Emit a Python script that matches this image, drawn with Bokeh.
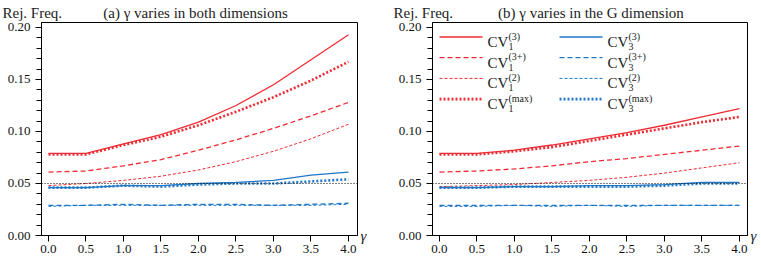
from bokeh.plotting import figure
from bokeh.layouts import row
from bokeh.models import (Range1d, Span, Label, FixedTicker, NumeralTickFormatter,
                          Title, LinearAxis)
from bokeh.embed import file_html
from bokeh.resources import INLINE

# ---------------- data ----------------
gamma = [0.0, 0.5, 1.0, 1.5, 2.0, 2.5, 3.0, 3.5, 4.0]
y_ticks = [0.00, 0.05, 0.10, 0.15, 0.20]
y_minor = [0.01 * i for i in range(21)]

# panel (a): gamma varies in both dimensions
a_cv1_3 = [0.079, 0.079, 0.088, 0.097, 0.109, 0.125, 0.145, 0.169, 0.193]
a_cv1_3p = [0.061, 0.062, 0.067, 0.073, 0.082, 0.092, 0.103, 0.115, 0.128]
a_cv1_2 = [0.048, 0.050, 0.053, 0.057, 0.063, 0.071, 0.081, 0.093, 0.107]
a_cv1_max = [0.078, 0.078, 0.087, 0.095, 0.106, 0.119, 0.133, 0.149, 0.167]
a_cv3_3 = [0.046, 0.046, 0.048, 0.048, 0.050, 0.051, 0.053, 0.058, 0.061]
a_cv3_3p = [0.029, 0.029, 0.030, 0.029, 0.030, 0.030, 0.029, 0.030, 0.031]
a_cv3_2 = [0.028, 0.029, 0.029, 0.029, 0.029, 0.029, 0.029, 0.029, 0.030]
a_cv3_max = [0.046, 0.046, 0.048, 0.047, 0.049, 0.050, 0.050, 0.052, 0.054]

# panel (b): gamma varies in the G dimension
b_cv1_3 = [0.079, 0.079, 0.082, 0.087, 0.093, 0.099, 0.106, 0.114, 0.122]
b_cv1_3p = [0.061, 0.062, 0.064, 0.067, 0.071, 0.074, 0.078, 0.082, 0.086]
b_cv1_2 = [0.047, 0.048, 0.049, 0.051, 0.053, 0.056, 0.060, 0.065, 0.070]
b_cv1_max = [0.078, 0.078, 0.081, 0.085, 0.091, 0.097, 0.103, 0.109, 0.114]
b_cv3_3 = [0.046, 0.046, 0.047, 0.047, 0.048, 0.048, 0.049, 0.051, 0.051]
b_cv3_3p = [0.029, 0.029, 0.029, 0.029, 0.029, 0.029, 0.029, 0.029, 0.029]
b_cv3_2 = [0.028, 0.028, 0.029, 0.028, 0.029, 0.028, 0.029, 0.029, 0.029]
b_cv3_max = [0.046, 0.046, 0.047, 0.047, 0.047, 0.047, 0.048, 0.050, 0.050]

nominal = 0.05
y_label = "Rej. Freq."
x_label = "γ"
titles = ["(a) γ varies in both dimensions", "(b) γ varies in the G dimension"]
sup_labels = ["(3)", "(3+)", "(2)", "(max)"]

# ---------------- styles ----------------
RED = "#ee2b33"
BLUE = "#1f77c8"
FONT = "Liberation Serif"
TXT = "#222222"
STYLES = [("solid", 1.3), ("5 3", 1.3), ("3 2", 1.0), ("2 2", 2.6)]
NBSP = "\u00a0"

H = 258
FRAME_TOP = 22
FRAME_BOTTOM_BORDER = 23
FRAME_H = H - FRAME_TOP - FRAME_BOTTOM_BORDER
X0, X1 = -0.0933, 4.12
Y0, Y1 = 0.0, 0.2048


def make_panel(width, left, right, title, gap, series, legend=False, x1=X1):
    fw = width - left - right
    p = figure(width=width, height=H, output_backend="svg", toolbar_location=None,
               x_range=Range1d(X0, x1), y_range=Range1d(Y0, Y1),
               min_border_left=left, min_border_right=right,
               min_border_top=FRAME_TOP, min_border_bottom=FRAME_BOTTOM_BORDER)
    p.grid.visible = False
    p.outline_line_color = "black"
    p.outline_line_width = 1
    p.outline_line_alpha = 1
    p.background_fill_color = "white"
    p.border_fill_color = "white"

    def dx(px):  # frame-relative pixel -> data x
        return X0 + px * (x1 - X0) / fw

    def dy(py):  # frame-relative pixel from top -> data y
        return Y1 - py * (Y1 - Y0) / FRAME_H

    # header text: "Rej. Freq." at left, panel title further right
    p.title = Title(text=y_label + NBSP * gap + title, align="left", offset=-39,
                    text_font=FONT, text_font_size="15px", text_font_style="normal",
                    text_color=TXT, standoff=4)

    for ax in (p.xaxis[0], p.yaxis[0]):
        ax.axis_line_color = "black"
        ax.major_tick_line_color = "black"
        ax.minor_tick_line_color = "black"
        ax.major_label_text_font = FONT
        ax.major_label_text_font_size = "13px"
        ax.major_label_text_color = "#111111"
        ax.major_tick_in = 0
        ax.major_tick_out = 6
        ax.minor_tick_in = 0
        ax.minor_tick_out = 5
    p.xaxis[0].ticker = FixedTicker(ticks=gamma, minor_ticks=[])
    p.xaxis[0].formatter = NumeralTickFormatter(format="0.0")
    p.xaxis[0].major_label_standoff = 3
    p.yaxis[0].ticker = FixedTicker(ticks=y_ticks, minor_ticks=y_minor)
    p.yaxis[0].formatter = NumeralTickFormatter(format="0.00")
    p.yaxis[0].major_label_standoff = 5

    # gamma symbol at the right end of the x axis (a bare right axis with one label)
    gax = LinearAxis(ticker=FixedTicker(ticks=[0.0], minor_ticks=[]),
                     major_label_overrides={0: x_label},
                     axis_line_color=None, major_tick_line_color=None,
                     minor_tick_line_color=None, major_tick_out=0, major_tick_in=0,
                     major_label_standoff=3, major_label_text_font=FONT,
                     major_label_text_font_style="italic",
                     major_label_text_font_size="15px", major_label_text_color=TXT)
    p.add_layout(gax, "right")

    for color, group in ((RED, series[:4]), (BLUE, series[4:])):
        for ys, (dash, lw) in zip(group, STYLES):
            p.line(gamma, ys, line_color=color, line_width=lw, line_dash=dash,
                   line_cap="butt")

    p.add_layout(Span(location=nominal, dimension="width", line_color="black",
                      line_width=1, line_dash="1 2"))

    if legend:
        for ci, (color, sub) in enumerate(((RED, "1"), (BLUE, "3"))):
            lx0 = 7 + ci * 120
            for ri, ((dash, lw), sup) in enumerate(zip(STYLES, sup_labels)):
                ly = 14.5 + ri * 20.7
                p.segment(x0=[dx(lx0)], y0=[dy(ly)], x1=[dx(lx0 + 43)], y1=[dy(ly)],
                          line_color=color, line_width=lw, line_dash=dash,
                          line_cap="butt")
                tx = lx0 + 48
                p.add_layout(Label(x=dx(tx), y=dy(ly + 5), text="CV", text_font=FONT,
                                   text_font_size="15px", text_color=TXT,
                                   text_baseline="alphabetic"))
                p.add_layout(Label(x=dx(tx + 21), y=dy(ly - 1), text=sup, text_font=FONT,
                                   text_font_size="10px", text_color=TXT,
                                   text_baseline="alphabetic"))
                p.add_layout(Label(x=dx(tx + 21), y=dy(ly + 9.5), text=sub, text_font=FONT,
                                   text_font_size="10px", text_color=TXT,
                                   text_baseline="alphabetic"))
    return p


p1 = make_panel(380, 41, 23, titles[0], 11,
                [a_cv1_3, a_cv1_3p, a_cv1_2, a_cv1_max, a_cv3_3, a_cv3_3p, a_cv3_2, a_cv3_max])
p2 = make_panel(381, 52, 14, titles[1], 12,
                [b_cv1_3, b_cv1_3p, b_cv1_2, b_cv1_max, b_cv3_3, b_cv3_3p, b_cv3_2, b_cv3_max],
                legend=True, x1=4.107)

layout = row(p1, p2)

with open("out.html", "w") as f:
    f.write(file_html(layout, INLINE))
